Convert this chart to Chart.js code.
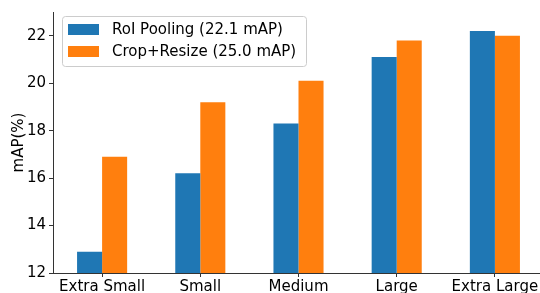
<!DOCTYPE html>
<html>
<head>
<meta charset="utf-8">
<script src="https://cdn.jsdelivr.net/npm/chart.js@4/dist/chart.umd.min.js"></script>
<style>
  html, body { margin: 0; padding: 0; background: #fff; overflow: hidden; }
  #mapChart { display: block; }
</style>
</head>
<body>
<canvas id="mapChart" width="544" height="293"></canvas>
<script>
// datos
const categorias = ['Extra Small', 'Small', 'Medium', 'Large', 'Extra Large'];
const roiPooling = [12.9, 16.2, 18.3, 21.1, 22.2];
const cropResize = [16.9, 19.2, 20.1, 21.8, 22.0];
const etiquetasSeries = ['RoI Pooling (22.1 mAP)', 'Crop+Resize (25.0 mAP)'];
const ticksY = [12, 14, 16, 18, 20, 22];

const fuente = "'DejaVu Sans', sans-serif";

// leyenda con marco, al estilo matplotlib
const leyendaMarco = {
    id: 'leyendaMarco',
    afterDraw(chart) {
        const ctx = chart.ctx;
        ctx.save();
        ctx.beginPath();
        ctx.roundRect(62.5, 16.5, 244, 50, 3);
        ctx.fillStyle = 'rgba(255,255,255,0.8)';
        ctx.fill();
        ctx.strokeStyle = '#cccccc';
        ctx.lineWidth = 1;
        ctx.stroke();
        chart.data.datasets.forEach((ds, i) => {
            const y = 24 + i * 22;
            ctx.fillStyle = ds.backgroundColor;
            ctx.fillRect(68, y, 31, 11);
            ctx.fillStyle = '#000';
            ctx.font = '15px ' + fuente;
            ctx.textBaseline = 'middle';
            ctx.fillText(ds.label, 112, y + 6);
        });
        ctx.restore();
    }
};

const ctx = document.getElementById('mapChart').getContext('2d');
new Chart(ctx, {
    type: 'bar',
    data: {
        labels: categorias,
        datasets: [
            {
                label: etiquetasSeries[0],
                data: roiPooling,
                backgroundColor: '#1f77b4',
                borderWidth: 0,
                categoryPercentage: 0.51,
                barPercentage: 1
            },
            {
                label: etiquetasSeries[1],
                data: cropResize,
                backgroundColor: '#ff7f0e',
                borderWidth: 0,
                categoryPercentage: 0.51,
                barPercentage: 1
            }
        ]
    },
    options: {
        responsive: false,
        animation: false,
        layout: { padding: { top: 9, right: 0, left: 0, bottom: 0 } },
        plugins: {
            legend: { display: false },
            tooltip: { enabled: false }
        },
        scales: {
            x: {
                grid: { offset: false, drawOnChartArea: false, drawTicks: true, tickLength: 4, color: '#333' },
                border: { display: true, color: '#333', width: 1 },
                ticks: { color: '#000', font: { family: fuente, size: 15 }, padding: 1, maxRotation: 0 },
                afterFit: (scale) => { scale.height = 20; }
            },
            y: {
                min: 12,
                max: 23,
                grid: { drawOnChartArea: false, drawTicks: true, tickLength: 4, color: '#333' },
                border: { display: true, color: '#333', width: 1 },
                ticks: {
                    color: '#000',
                    font: { family: fuente, size: 15 },
                    padding: 3,
                    includeBounds: false
                },
                afterBuildTicks: (scale) => { scale.ticks = ticksY.map(v => ({ value: v })); },
                title: {
                    display: true,
                    text: 'mAP(%)',
                    color: '#000',
                    font: { family: fuente, size: 15 },
                    padding: { top: 10, bottom: 0 }
                },
                afterFit: (scale) => { scale.width = 53; }
            }
        }
    },
    plugins: [leyendaMarco]
});
</script>
</body>
</html>
